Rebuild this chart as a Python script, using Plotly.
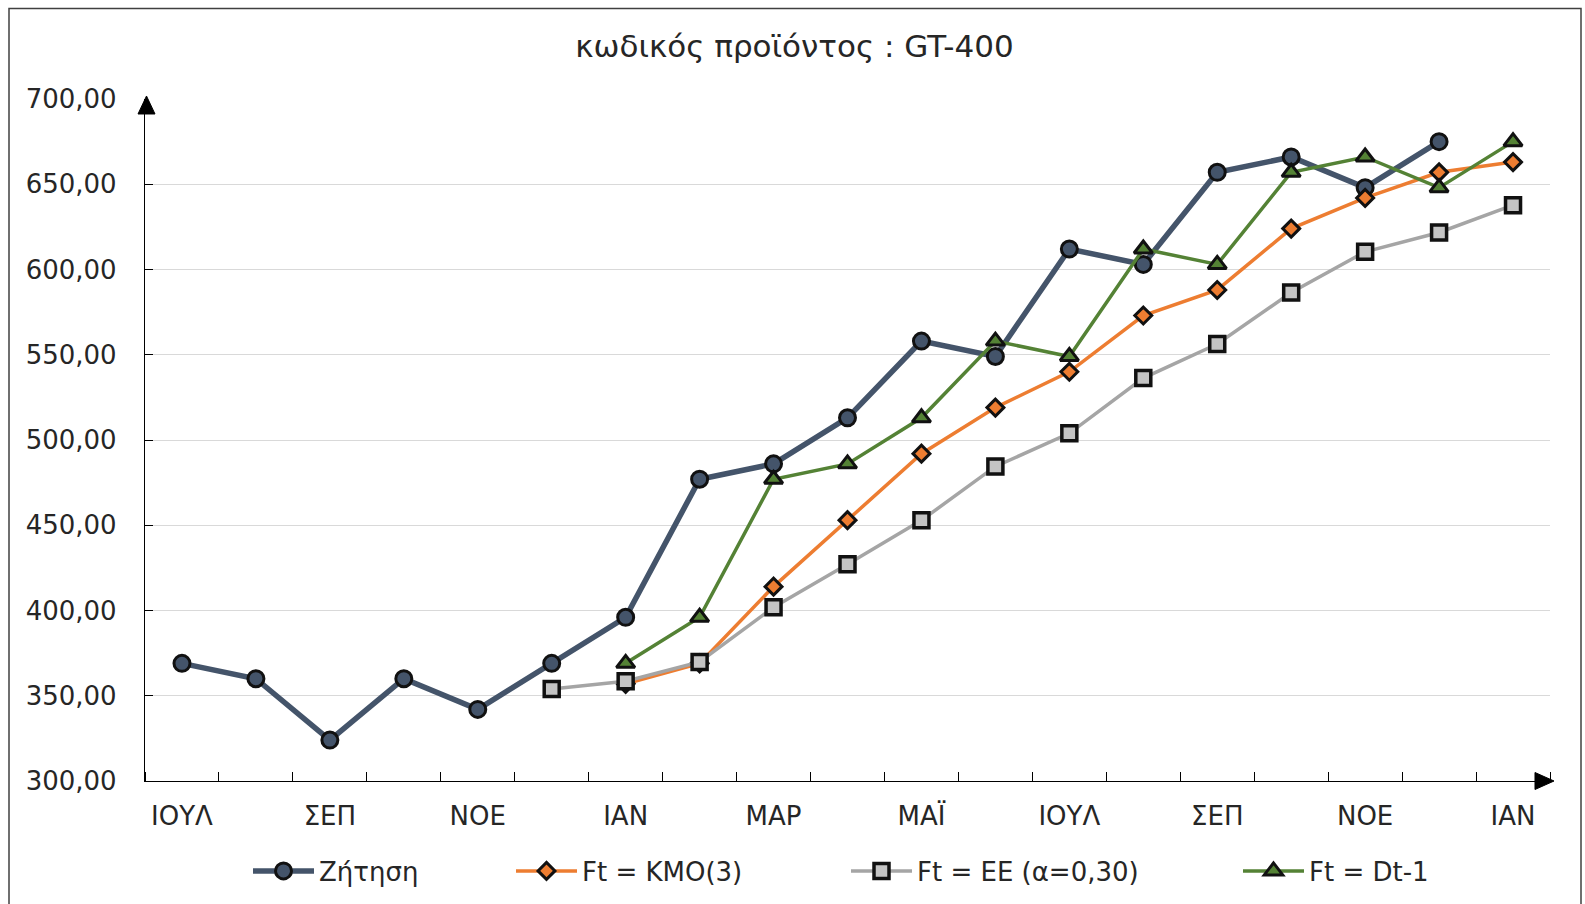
import plotly.graph_objects as go

# ---------------- data ----------------
months = ["ΙΟΥΛ", "ΑΥΓ", "ΣΕΠ", "ΟΚΤ", "ΝΟΕ", "ΔΕΚ", "ΙΑΝ", "ΦΕΒ", "ΜΑΡ", "ΑΠΡ",
          "ΜΑΪ", "ΙΟΥΝ", "ΙΟΥΛ", "ΑΥΓ", "ΣΕΠ", "ΟΚΤ", "ΝΟΕ", "ΔΕΚ", "ΙΑΝ"]
demand = [369, 360, 324, 360, 342, 369, 396, 477, 486, 513, 558, 549, 612, 603, 657, 666, 648, 675, None]
kmo3 = [None, None, None, None, None, None, 357, 369, 414, 453, 492, 519, 540, 573, 588, 624, 642, 657, 663]
ee030 = [None, None, None, None, None, 354, 358.5, 369.8, 401.9, 427.1, 452.9, 484.5, 503.9, 536.3,
         556.3, 586.5, 610.4, 621.7, 637.7]
naive = [None, None, None, None, None, None, 369, 396, 477, 486, 513, 558, 549, 612, 603, 657, 666, 648, 675]
series_names = ["Ζήτηση", "Ft = ΚΜΟ(3)", "Ft = ΕΕ (α=0,30)", "Ft = Dt-1"]
title_text = "κωδικός προϊόντος : GT-400"

# ---------------- layout constants ----------------
W, H = 1585, 904
ML, MR, MT, MB = 145, 35, 99, 123
PW, PH = W - ML - MR, H - MT - MB
FONT = "DejaVu Sans"
TXT = "#262626"

def px_x(p):
    return (p - ML) / PW

def px_y(p):
    return (H - MB - p) / PH

def tri_path(pts):
    return "M " + " L ".join(f"{px_x(a):.5f},{px_y(b):.5f}" for a, b in pts) + " Z"

idx = list(range(len(months)))
label_idx = idx[::2]
label_txt = [months[i] for i in label_idx]

fig = go.Figure()

styles = [
    dict(line=dict(color="#44546A", width=5.5),
         marker=dict(symbol="circle", size=16, color="#44546A", line=dict(color="#111111", width=3))),
    dict(line=dict(color="#ED7D31", width=3.5),
         marker=dict(symbol="diamond", size=13, color="#ED7D31", line=dict(color="#111111", width=3))),
    dict(line=dict(color="#A5A5A5", width=3.5),
         marker=dict(symbol="square", size=15, color="#C4C4C4", line=dict(color="#111111", width=3.5))),
    dict(line=dict(color="#548235", width=3.5),
         marker=dict(symbol="triangle-up", size=16, color="#548235", line=dict(color="#111111", width=3))),
]
values = [demand, kmo3, ee030, naive]
legends = ["legend", "legend2", "legend3", "legend4"]

for name, vals, st, lg in zip(series_names, values, styles, legends):
    fig.add_trace(go.Scatter(x=idx, y=vals, name=name, mode="lines+markers",
                             line=st["line"], marker=st["marker"], legend=lg,
                             showlegend=True, connectgaps=False))

legend_x_px = [248, 511, 846, 1238]
leg_common = dict(orientation="h", yanchor="middle", xanchor="left", y=px_y(871),
                  font=dict(family=FONT, size=26, color=TXT), bgcolor="rgba(0,0,0,0)",
                  itemwidth=61, borderwidth=0)
layout_legends = {}
for lg, xp in zip(legends, legend_x_px):
    layout_legends[lg] = dict(leg_common, x=px_x(xp))

shapes = [
    # arrow heads at the ends of the axes
    dict(type="path", xref="paper", yref="paper",
         path=tri_path([(146.5, 96), (138, 114), (155, 114)]),
         fillcolor="black", line=dict(color="black", width=1)),
    dict(type="path", xref="paper", yref="paper",
         path=tri_path([(1554, 781), (1535, 772.5), (1535, 789.5)]),
         fillcolor="black", line=dict(color="black", width=1)),
    # outer chart border
    dict(type="rect", xref="paper", yref="paper", x0=px_x(9), x1=px_x(1581),
         y0=px_y(915), y1=px_y(8.5), line=dict(color="#404040", width=1.5),
         fillcolor="rgba(0,0,0,0)", layer="below"),
]

fig.update_layout(
    width=W, height=H,
    margin=dict(l=ML, r=MR, t=MT, b=MB, pad=0, autoexpand=False),
    paper_bgcolor="white", plot_bgcolor="white",
    separators=",.",
    showlegend=True,
    font=dict(family=FONT, size=26, color=TXT),
    title=dict(text=title_text, x=px_x(W / 2 + 2), xref="paper", xanchor="center",
               y=1 - 46.5 / H, yref="container", yanchor="middle",
               font=dict(family=FONT, size=31, color=TXT)),
    shapes=shapes,
    **layout_legends,
)

fig.update_xaxes(range=[-0.5, 18.5], tickmode="array", tickvals=label_idx, ticktext=label_txt,
                 ticks="", showgrid=False, zeroline=False, showline=True, linecolor="black",
                 linewidth=1.3, tickfont=dict(family=FONT, size=26, color=TXT),
                 ticklabelstandoff=12, automargin=False,
                 minor=dict(tickmode="array", tickvals=[i + 0.5 for i in range(-1, 19)],
                            ticks="inside", ticklen=9, tickcolor="black", tickwidth=1.3,
                            showgrid=False))
fig.update_yaxes(range=[300, 700], tickmode="linear", tick0=300, dtick=50, tickformat=".2f",
                 ticks="inside", ticklen=8, tickcolor="black", tickwidth=1.3,
                 showgrid=True, gridcolor="#D9D9D9", gridwidth=1.2, zeroline=False,
                 showline=True, linecolor="black", linewidth=1.3, automargin=False,
                 tickfont=dict(family=FONT, size=26, color=TXT), ticklabelstandoff=22)

fig.write_html("out.html")
